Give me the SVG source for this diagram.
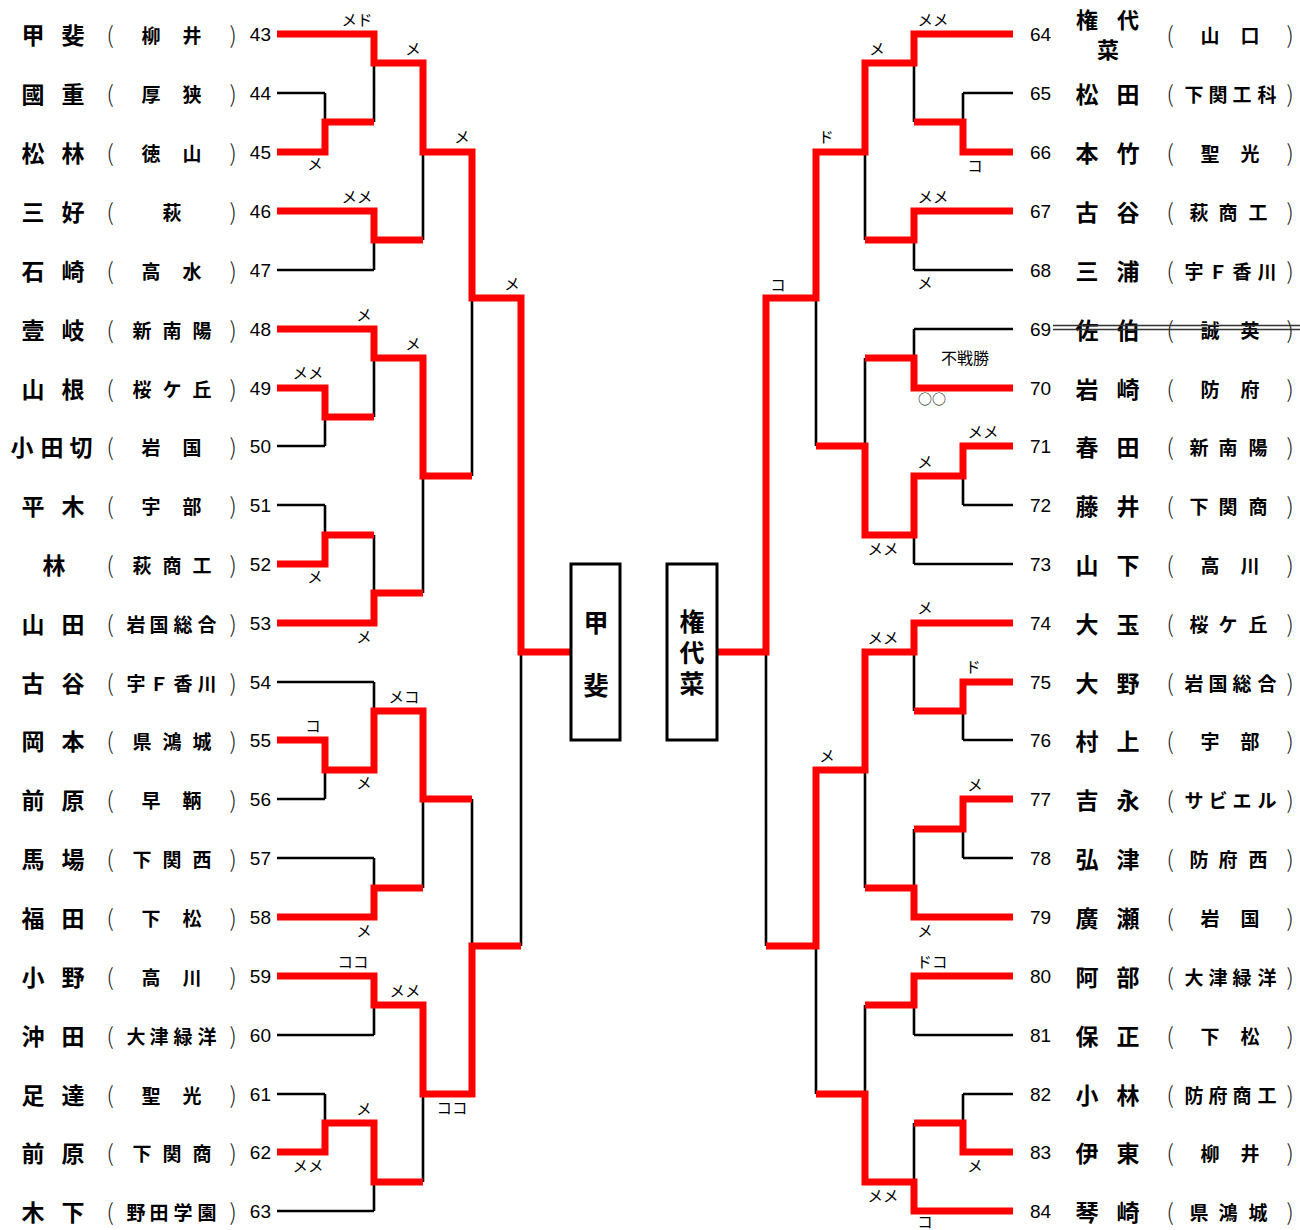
<svg xmlns="http://www.w3.org/2000/svg" width="1300" height="1230" viewBox="0 0 1300 1230">
<style>
text{dominant-baseline:central}
.nm{font-family:"Noto Sans CJK JP",sans-serif;font-size:23px;font-weight:700;text-anchor:middle;fill:#000}
.sc{font-family:"Noto Sans CJK JP",sans-serif;font-size:19px;font-weight:700;text-anchor:middle;fill:#000}
.p{font-size:23px;font-weight:300;fill:#222}
.nl{font-family:"Liberation Sans",Arial,sans-serif;font-size:19px;text-anchor:end;fill:#000}
.nr{font-family:"Liberation Sans",Arial,sans-serif;font-size:19px;text-anchor:start;fill:#000}
.lb{font-family:"Noto Sans CJK JP",sans-serif;font-size:15.5px;text-anchor:middle;fill:#000}
.bk{fill:none;stroke:#000;stroke-width:2.6}
.rd{fill:none;stroke:#f00;stroke-width:7;stroke-linejoin:miter;stroke-linecap:butt}
.box{fill:#fff;stroke:#000;stroke-width:3}
.bt{font-family:"Noto Sans CJK JP",sans-serif;font-size:25px;font-weight:700;text-anchor:middle;fill:#000}
</style>
<rect width="1300" height="1230" fill="#fff"/>
<g id="connectors">
<path class="bk" d="M277 34H374 M277 93H325 M277 152H325 M277 211H374 M277 270H374 M277 329H374 M277 388H325 M277 446H325 M277 505H325 M277 564H325 M277 623H374 M277 682H374 M277 740H325 M277 799H325 M277 858H374 M277 917H374 M277 976H374 M277 1035H374 M277 1094H325 M277 1152H325 M277 1211H374
M325 93V152 M325 122H374 M325 388V446 M325 417H374 M325 505V564 M325 535H374 M325 740V799 M325 770H374 M325 1094V1152 M325 1123H374
M374 34V122 M374 63H423 M374 211V270 M374 240H423 M374 329V417 M374 358H423 M374 535V623 M374 593H423 M374 682V770 M374 711H423 M374 858V917 M374 888H423 M374 976V1035 M374 1005H423 M374 1123V1211 M374 1182H423
M423 63V240 M423 152H472 M423 358V593 M423 476H472 M423 711V888 M423 799H472 M423 1005V1182 M423 1094H472
M472 152V476 M472 298H521 M472 799V1094 M472 946H521 M521 298V946 M521 652H571"/>
<path class="bk" d="M914 34H1013 M963 93H1013 M963 152H1013 M914 211H1013 M914 270H1013 M914 329H1013 M914 388H1013 M963 446H1013 M963 505H1013 M914 564H1013 M914 623H1013 M963 682H1013 M963 740H1013 M963 799H1013 M963 858H1013 M914 917H1013 M914 976H1013 M914 1035H1013 M963 1094H1013 M963 1152H1013 M914 1211H1013
M963 93V152 M914 122H963 M963 446V505 M914 476H963 M963 682V740 M914 711H963 M963 799V858 M914 829H963 M963 1094V1152 M914 1123H963
M914 34V122 M865 63H914 M914 211V270 M865 240H914 M914 329V388 M865 358H914 M914 476V564 M865 535H914 M914 623V711 M865 652H914 M914 829V917 M865 888H914 M914 976V1035 M865 1005H914 M914 1123V1211 M865 1182H914
M865 63V240 M816 152H865 M865 358V535 M816 446H865 M865 652V888 M816 770H865 M865 1005V1182 M816 1094H865
M816 152V446 M766 298H816 M816 770V1094 M766 946H816 M766 298V946 M717 652H766"/>
<polyline class="rd" points="277,34 374,34 374,63 423,63 423,152 472,152 472,298 521,298 521,652 571,652"/>
<polyline class="rd" points="277,152 325,152 325,122 374,122"/>
<polyline class="rd" points="277,211 374,211 374,240 423,240"/>
<polyline class="rd" points="277,329 374,329 374,358 423,358 423,476 472,476"/>
<polyline class="rd" points="277,388 325,388 325,417 374,417"/>
<polyline class="rd" points="277,564 325,564 325,535 374,535"/>
<polyline class="rd" points="277,623 374,623 374,593 423,593"/>
<polyline class="rd" points="277,740 325,740 325,770 374,770 374,711 423,711 423,799 472,799"/>
<polyline class="rd" points="277,917 374,917 374,888 423,888"/>
<polyline class="rd" points="277,976 374,976 374,1005 423,1005 423,1094 472,1094 472,946 521,946"/>
<polyline class="rd" points="277,1152 325,1152 325,1123 374,1123 374,1182 423,1182"/>
<polyline class="rd" points="1013,34 914,34 914,63 865,63 865,152 816,152 816,298 766,298 766,652 717,652"/>
<polyline class="rd" points="1013,152 963,152 963,122 914,122"/>
<polyline class="rd" points="1013,211 914,211 914,240 865,240"/>
<polyline class="rd" points="1013,388 914,388 914,358 865,358"/>
<polyline class="rd" points="1013,446 963,446 963,476 914,476 914,535 865,535 865,446 816,446"/>
<polyline class="rd" points="1013,623 914,623 914,652 865,652 865,770 816,770 816,946 766,946"/>
<polyline class="rd" points="1013,682 963,682 963,711 914,711"/>
<polyline class="rd" points="1013,799 963,799 963,829 914,829"/>
<polyline class="rd" points="1013,917 914,917 914,888 865,888"/>
<polyline class="rd" points="1013,976 914,976 914,1005 865,1005"/>
<polyline class="rd" points="1013,1152 963,1152 963,1123 914,1123"/>
<polyline class="rd" points="1013,1211 914,1211 914,1182 865,1182 865,1094 816,1094"/>
</g>
<g id="scores">
<text class="lb" x="357" y="19">メド</text>
<text class="lb" x="413" y="48">メ</text>
<text class="lb" x="315" y="163">メ</text>
<text class="lb" x="462" y="136">メ</text>
<text class="lb" x="357" y="196">メメ</text>
<text class="lb" x="512" y="283">メ</text>
<text class="lb" x="364" y="314">メ</text>
<text class="lb" x="413" y="343">メ</text>
<text class="lb" x="308" y="372">メメ</text>
<text class="lb" x="315" y="576">メ</text>
<text class="lb" x="364" y="636">メ</text>
<text class="lb" x="404" y="696">メコ</text>
<text class="lb" x="313" y="725">コ</text>
<text class="lb" x="364" y="782">メ</text>
<text class="lb" x="364" y="930">メ</text>
<text class="lb" x="353" y="961">ココ</text>
<text class="lb" x="405" y="990">メメ</text>
<text class="lb" x="452" y="1107">ココ</text>
<text class="lb" x="364" y="1108">メ</text>
<text class="lb" x="308" y="1165">メメ</text>
<text class="lb" x="933" y="19">メメ</text>
<text class="lb" x="877" y="48">メ</text>
<text class="lb" x="826" y="136">ド</text>
<text class="lb" x="975" y="165">コ</text>
<text class="lb" x="933" y="196">メメ</text>
<text class="lb" x="778" y="284">コ</text>
<text class="lb" x="925" y="282">メ</text>
<text class="lb" x="965" y="357" style="font-size:16px">不戦勝</text>
<text class="lb" x="932" y="398" style="font-size:14px">○○</text>
<text class="lb" x="983" y="431">メメ</text>
<text class="lb" x="925" y="461">メ</text>
<text class="lb" x="883" y="548">メメ</text>
<text class="lb" x="925" y="607">メ</text>
<text class="lb" x="883" y="637">メメ</text>
<text class="lb" x="973" y="666">ド</text>
<text class="lb" x="827" y="755">メ</text>
<text class="lb" x="975" y="784">メ</text>
<text class="lb" x="925" y="930">メ</text>
<text class="lb" x="932" y="961">ドコ</text>
<text class="lb" x="975" y="1165">メ</text>
<text class="lb" x="883" y="1195">メメ</text>
<text class="lb" x="925" y="1221">コ</text>
</g>
<g id="final-left"><rect class="box" x="571" y="564" width="49" height="176"/><text class="bt" x="596" y="621">甲</text><text class="bt" x="596" y="684">斐</text></g>
<g id="final-right"><rect class="box" x="667" y="564" width="50" height="176"/><text class="bt" x="692" y="655" style="writing-mode:vertical-rl;letter-spacing:6px">権代菜</text></g>
<g id="p43"><text class="nm" x="33 73" y="34">甲斐</text><text class="sc" y="34"><tspan class="p" x="110">(</tspan><tspan x="151 192">柳井</tspan><tspan class="p" x="233">)</tspan></text><text class="nl" x="271" y="34">43</text></g>
<g id="p44"><text class="nm" x="33 73" y="93">國重</text><text class="sc" y="93"><tspan class="p" x="110">(</tspan><tspan x="151 192">厚狭</tspan><tspan class="p" x="233">)</tspan></text><text class="nl" x="271" y="93">44</text></g>
<g id="p45"><text class="nm" x="33 73" y="152">松林</text><text class="sc" y="152"><tspan class="p" x="110">(</tspan><tspan x="151 192">徳山</tspan><tspan class="p" x="233">)</tspan></text><text class="nl" x="271" y="152">45</text></g>
<g id="p46"><text class="nm" x="33 73" y="211">三好</text><text class="sc" y="211"><tspan class="p" x="110">(</tspan><tspan x="172">萩</tspan><tspan class="p" x="233">)</tspan></text><text class="nl" x="271" y="211">46</text></g>
<g id="p47"><text class="nm" x="33 73" y="270">石崎</text><text class="sc" y="270"><tspan class="p" x="110">(</tspan><tspan x="151 192">高水</tspan><tspan class="p" x="233">)</tspan></text><text class="nl" x="271" y="270">47</text></g>
<g id="p48"><text class="nm" x="33 73" y="329">壹岐</text><text class="sc" y="329"><tspan class="p" x="110">(</tspan><tspan x="142 172 202">新南陽</tspan><tspan class="p" x="233">)</tspan></text><text class="nl" x="271" y="329">48</text></g>
<g id="p49"><text class="nm" x="33 73" y="388">山根</text><text class="sc" y="388"><tspan class="p" x="110">(</tspan><tspan x="142 172 202">桜ケ丘</tspan><tspan class="p" x="233">)</tspan></text><text class="nl" x="271" y="388">49</text></g>
<g id="p50"><text class="nm" x="22 52 81" y="446">小田切</text><text class="sc" y="446"><tspan class="p" x="110">(</tspan><tspan x="151 192">岩国</tspan><tspan class="p" x="233">)</tspan></text><text class="nl" x="271" y="446">50</text></g>
<g id="p51"><text class="nm" x="33 73" y="505">平木</text><text class="sc" y="505"><tspan class="p" x="110">(</tspan><tspan x="151 192">宇部</tspan><tspan class="p" x="233">)</tspan></text><text class="nl" x="271" y="505">51</text></g>
<g id="p52"><text class="nm" x="54" y="564">林</text><text class="sc" y="564"><tspan class="p" x="110">(</tspan><tspan x="142 172 202">萩商工</tspan><tspan class="p" x="233">)</tspan></text><text class="nl" x="271" y="564">52</text></g>
<g id="p53"><text class="nm" x="33 73" y="623">山田</text><text class="sc" y="623"><tspan class="p" x="110">(</tspan><tspan x="136 159 183 207">岩国総合</tspan><tspan class="p" x="233">)</tspan></text><text class="nl" x="271" y="623">53</text></g>
<g id="p54"><text class="nm" x="33 73" y="682">古谷</text><text class="sc" y="682"><tspan class="p" x="110">(</tspan><tspan x="136 159 183 207">宇Ｆ香川</tspan><tspan class="p" x="233">)</tspan></text><text class="nl" x="271" y="682">54</text></g>
<g id="p55"><text class="nm" x="33 73" y="740">岡本</text><text class="sc" y="740"><tspan class="p" x="110">(</tspan><tspan x="142 172 202">県鴻城</tspan><tspan class="p" x="233">)</tspan></text><text class="nl" x="271" y="740">55</text></g>
<g id="p56"><text class="nm" x="33 73" y="799">前原</text><text class="sc" y="799"><tspan class="p" x="110">(</tspan><tspan x="151 192">早鞆</tspan><tspan class="p" x="233">)</tspan></text><text class="nl" x="271" y="799">56</text></g>
<g id="p57"><text class="nm" x="33 73" y="858">馬場</text><text class="sc" y="858"><tspan class="p" x="110">(</tspan><tspan x="142 172 202">下関西</tspan><tspan class="p" x="233">)</tspan></text><text class="nl" x="271" y="858">57</text></g>
<g id="p58"><text class="nm" x="33 73" y="917">福田</text><text class="sc" y="917"><tspan class="p" x="110">(</tspan><tspan x="151 192">下松</tspan><tspan class="p" x="233">)</tspan></text><text class="nl" x="271" y="917">58</text></g>
<g id="p59"><text class="nm" x="33 73" y="976">小野</text><text class="sc" y="976"><tspan class="p" x="110">(</tspan><tspan x="151 192">高川</tspan><tspan class="p" x="233">)</tspan></text><text class="nl" x="271" y="976">59</text></g>
<g id="p60"><text class="nm" x="33 73" y="1035">沖田</text><text class="sc" y="1035"><tspan class="p" x="110">(</tspan><tspan x="136 159 183 207">大津緑洋</tspan><tspan class="p" x="233">)</tspan></text><text class="nl" x="271" y="1035">60</text></g>
<g id="p61"><text class="nm" x="33 73" y="1094">足達</text><text class="sc" y="1094"><tspan class="p" x="110">(</tspan><tspan x="151 192">聖光</tspan><tspan class="p" x="233">)</tspan></text><text class="nl" x="271" y="1094">61</text></g>
<g id="p62"><text class="nm" x="33 73" y="1152">前原</text><text class="sc" y="1152"><tspan class="p" x="110">(</tspan><tspan x="142 172 202">下関商</tspan><tspan class="p" x="233">)</tspan></text><text class="nl" x="271" y="1152">62</text></g>
<g id="p63"><text class="nm" x="33 73" y="1211">木下</text><text class="sc" y="1211"><tspan class="p" x="110">(</tspan><tspan x="136 159 183 207">野田学園</tspan><tspan class="p" x="233">)</tspan></text><text class="nl" x="271" y="1211">63</text></g>
<g id="p64"><text class="nr" x="1030" y="34">64</text><text class="nm" x="1087 1128" y="18" style="font-size:22px">権代</text><text class="nm" x="1108" y="48" style="font-size:22px">菜</text><text class="sc" y="34"><tspan class="p" x="1170">(</tspan><tspan x="1210 1250">山口</tspan><tspan class="p" x="1290">)</tspan></text></g>
<g id="p65"><text class="nr" x="1030" y="93">65</text><text class="nm" x="1087 1128" y="93">松田</text><text class="sc" y="93"><tspan class="p" x="1170">(</tspan><tspan x="1194 1218 1242 1267">下関工科</tspan><tspan class="p" x="1290">)</tspan></text></g>
<g id="p66"><text class="nr" x="1030" y="152">66</text><text class="nm" x="1087 1128" y="152">本竹</text><text class="sc" y="152"><tspan class="p" x="1170">(</tspan><tspan x="1210 1250">聖光</tspan><tspan class="p" x="1290">)</tspan></text></g>
<g id="p67"><text class="nr" x="1030" y="211">67</text><text class="nm" x="1087 1128" y="211">古谷</text><text class="sc" y="211"><tspan class="p" x="1170">(</tspan><tspan x="1199 1228 1258">萩商工</tspan><tspan class="p" x="1290">)</tspan></text></g>
<g id="p68"><text class="nr" x="1030" y="270">68</text><text class="nm" x="1087 1128" y="270">三浦</text><text class="sc" y="270"><tspan class="p" x="1170">(</tspan><tspan x="1194 1218 1242 1267">宇Ｆ香川</tspan><tspan class="p" x="1290">)</tspan></text></g>
<g id="p69"><text class="nr" x="1030" y="329">69</text><text class="nm" x="1087 1128" y="329">佐伯</text><text class="sc" y="329"><tspan class="p" x="1170">(</tspan><tspan x="1210 1250">誠英</tspan><tspan class="p" x="1290">)</tspan></text><path d="M1053 325.5H1300 M1053 329.5H1300" fill="none" stroke="#333" stroke-width="1.3"/></g>
<g id="p70"><text class="nr" x="1030" y="388">70</text><text class="nm" x="1087 1128" y="388">岩崎</text><text class="sc" y="388"><tspan class="p" x="1170">(</tspan><tspan x="1210 1250">防府</tspan><tspan class="p" x="1290">)</tspan></text></g>
<g id="p71"><text class="nr" x="1030" y="446">71</text><text class="nm" x="1087 1128" y="446">春田</text><text class="sc" y="446"><tspan class="p" x="1170">(</tspan><tspan x="1199 1228 1258">新南陽</tspan><tspan class="p" x="1290">)</tspan></text></g>
<g id="p72"><text class="nr" x="1030" y="505">72</text><text class="nm" x="1087 1128" y="505">藤井</text><text class="sc" y="505"><tspan class="p" x="1170">(</tspan><tspan x="1199 1228 1258">下関商</tspan><tspan class="p" x="1290">)</tspan></text></g>
<g id="p73"><text class="nr" x="1030" y="564">73</text><text class="nm" x="1087 1128" y="564">山下</text><text class="sc" y="564"><tspan class="p" x="1170">(</tspan><tspan x="1210 1250">高川</tspan><tspan class="p" x="1290">)</tspan></text></g>
<g id="p74"><text class="nr" x="1030" y="623">74</text><text class="nm" x="1087 1128" y="623">大玉</text><text class="sc" y="623"><tspan class="p" x="1170">(</tspan><tspan x="1199 1228 1258">桜ケ丘</tspan><tspan class="p" x="1290">)</tspan></text></g>
<g id="p75"><text class="nr" x="1030" y="682">75</text><text class="nm" x="1087 1128" y="682">大野</text><text class="sc" y="682"><tspan class="p" x="1170">(</tspan><tspan x="1194 1218 1242 1267">岩国総合</tspan><tspan class="p" x="1290">)</tspan></text></g>
<g id="p76"><text class="nr" x="1030" y="740">76</text><text class="nm" x="1087 1128" y="740">村上</text><text class="sc" y="740"><tspan class="p" x="1170">(</tspan><tspan x="1210 1250">宇部</tspan><tspan class="p" x="1290">)</tspan></text></g>
<g id="p77"><text class="nr" x="1030" y="799">77</text><text class="nm" x="1087 1128" y="799">吉永</text><text class="sc" y="799"><tspan class="p" x="1170">(</tspan><tspan x="1194 1218 1242 1267">サビエル</tspan><tspan class="p" x="1290">)</tspan></text></g>
<g id="p78"><text class="nr" x="1030" y="858">78</text><text class="nm" x="1087 1128" y="858">弘津</text><text class="sc" y="858"><tspan class="p" x="1170">(</tspan><tspan x="1199 1228 1258">防府西</tspan><tspan class="p" x="1290">)</tspan></text></g>
<g id="p79"><text class="nr" x="1030" y="917">79</text><text class="nm" x="1087 1128" y="917">廣瀬</text><text class="sc" y="917"><tspan class="p" x="1170">(</tspan><tspan x="1210 1250">岩国</tspan><tspan class="p" x="1290">)</tspan></text></g>
<g id="p80"><text class="nr" x="1030" y="976">80</text><text class="nm" x="1087 1128" y="976">阿部</text><text class="sc" y="976"><tspan class="p" x="1170">(</tspan><tspan x="1194 1218 1242 1267">大津緑洋</tspan><tspan class="p" x="1290">)</tspan></text></g>
<g id="p81"><text class="nr" x="1030" y="1035">81</text><text class="nm" x="1087 1128" y="1035">保正</text><text class="sc" y="1035"><tspan class="p" x="1170">(</tspan><tspan x="1210 1250">下松</tspan><tspan class="p" x="1290">)</tspan></text></g>
<g id="p82"><text class="nr" x="1030" y="1094">82</text><text class="nm" x="1087 1128" y="1094">小林</text><text class="sc" y="1094"><tspan class="p" x="1170">(</tspan><tspan x="1194 1218 1242 1267">防府商工</tspan><tspan class="p" x="1290">)</tspan></text></g>
<g id="p83"><text class="nr" x="1030" y="1152">83</text><text class="nm" x="1087 1128" y="1152">伊東</text><text class="sc" y="1152"><tspan class="p" x="1170">(</tspan><tspan x="1210 1250">柳井</tspan><tspan class="p" x="1290">)</tspan></text></g>
<g id="p84"><text class="nr" x="1030" y="1211">84</text><text class="nm" x="1087 1128" y="1211">琴崎</text><text class="sc" y="1211"><tspan class="p" x="1170">(</tspan><tspan x="1199 1228 1258">県鴻城</tspan><tspan class="p" x="1290">)</tspan></text></g>
</svg>
